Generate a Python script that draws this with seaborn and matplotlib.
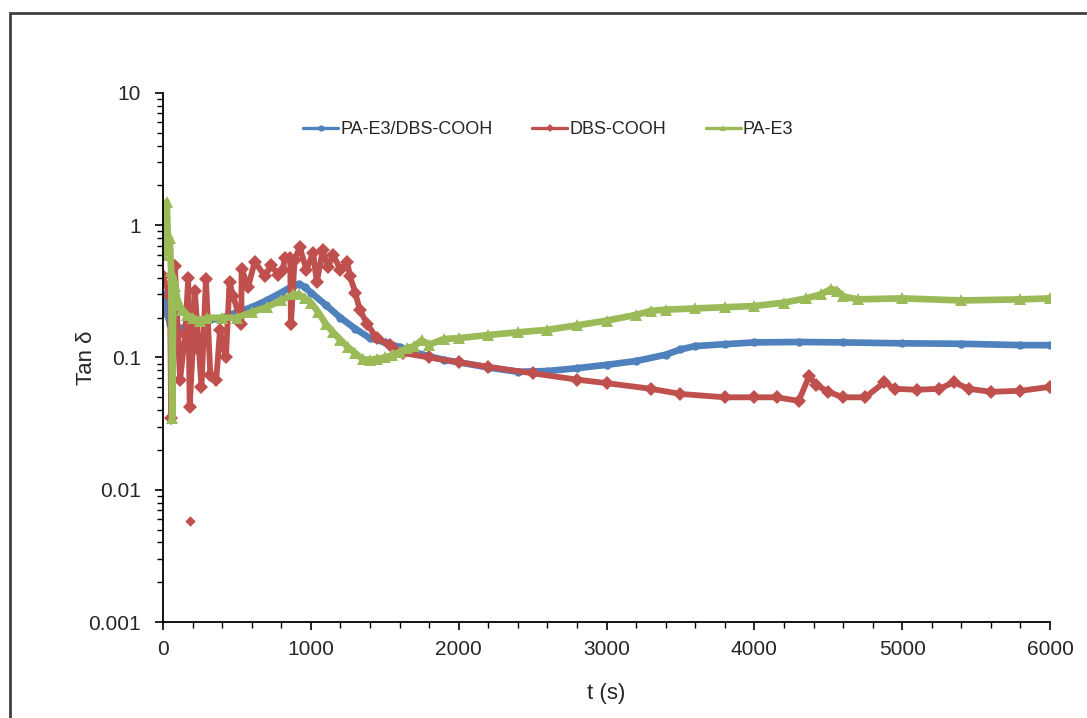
import matplotlib
matplotlib.use("Agg")
import matplotlib.pyplot as plt
import matplotlib.ticker as mticker
from matplotlib.lines import Line2D
from matplotlib.patches import Rectangle
import numpy as np
import pandas as pd
import seaborn as sns

# ---- data: loss tangent vs time ----
blend_t = [0, 20, 50, 100, 150, 200, 300, 400, 500, 600, 700, 800, 880, 920, 960,
           1000, 1100, 1200, 1300, 1400, 1500, 1600, 1700, 1800, 1900, 2000, 2200,
           2400, 2600, 2800, 3000, 3200, 3400, 3500, 3600, 3800, 4000, 4300, 4600,
           5000, 5400, 5800, 6000]
blend_v = [0.30, 0.22, 0.18, 0.165, 0.17, 0.18, 0.19, 0.20, 0.22, 0.24, 0.27, 0.31,
           0.35, 0.36, 0.34, 0.31, 0.25, 0.20, 0.165, 0.14, 0.13, 0.12, 0.11, 0.102,
           0.096, 0.092, 0.084, 0.078, 0.079, 0.083, 0.088, 0.094, 0.105, 0.115,
           0.122, 0.126, 0.130, 0.131, 0.130, 0.128, 0.127, 0.124, 0.124]

dbs_t = [0, 47, 55, 80, 115, 150, 170, 180, 200, 215, 260, 290, 320, 360, 385, 425,
         450, 475, 530, 531, 575, 620, 690, 730, 780, 810, 825, 860, 865, 890, 925,
         970, 1015, 1040, 1080, 1115, 1150, 1200, 1245, 1265, 1300, 1330, 1380, 1445,
         1535, 1625, 1800, 2000, 2200, 2500, 2800, 3000, 3300, 3500, 3800, 4000,
         4150, 4300, 4370, 4420, 4500, 4600, 4750, 4880, 4950, 5100, 5250, 5350,
         5450, 5600, 5800, 6000]
dbs_v = [0.41, 0.29, 0.035, 0.49, 0.068, 0.15, 0.40, 0.042, 0.114, 0.32, 0.06, 0.39,
         0.074, 0.068, 0.16, 0.10, 0.37, 0.29, 0.18, 0.47, 0.34, 0.53, 0.41, 0.50,
         0.42, 0.46, 0.57, 0.57, 0.18, 0.55, 0.68, 0.46, 0.62, 0.37, 0.65, 0.48,
         0.60, 0.46, 0.53, 0.41, 0.31, 0.23, 0.18, 0.14, 0.125, 0.108, 0.10, 0.092,
         0.085, 0.076, 0.068, 0.064, 0.058, 0.053, 0.050, 0.050, 0.050, 0.047,
         0.072, 0.062, 0.055, 0.050, 0.050, 0.065, 0.058, 0.057, 0.058, 0.065,
         0.058, 0.055, 0.056, 0.060]
dbs_outlier_t = [185]
dbs_outlier_v = [0.0058]

pae3_t = [0, 15, 25, 35, 45, 55, 62, 70, 80, 95, 110, 130, 160, 200, 250, 300, 400,
          500, 600, 700, 800, 880, 920, 960, 1000, 1050, 1100, 1150, 1200, 1250,
          1300, 1350, 1400, 1450, 1500, 1550, 1600, 1650, 1700, 1750, 1800, 1900,
          2000, 2200, 2400, 2600, 2800, 3000, 3200, 3300, 3400, 3600, 3800, 4000,
          4200, 4350, 4450, 4520, 4560, 4600, 4700, 5000, 5400, 5800, 6000]
pae3_v = [0.60, 0.65, 1.50, 0.70, 0.80, 0.45, 0.035, 0.40, 0.35, 0.28, 0.25, 0.23,
          0.21, 0.20, 0.19, 0.20, 0.20, 0.20, 0.22, 0.24, 0.27, 0.30, 0.30, 0.28,
          0.26, 0.22, 0.18, 0.155, 0.136, 0.12, 0.108, 0.097, 0.096, 0.098, 0.10,
          0.104, 0.11, 0.118, 0.122, 0.135, 0.125, 0.138, 0.14, 0.148, 0.155, 0.162,
          0.175, 0.19, 0.21, 0.225, 0.23, 0.235, 0.24, 0.245, 0.26, 0.28, 0.30, 0.33,
          0.32, 0.29, 0.275, 0.28, 0.27, 0.275, 0.28]

series_names = ["PA-E3/DBS-COOH", "DBS-COOH", "PA-E3"]
colors = ["#4F81BD", "#C0504D", "#9BBB59"]
markers = ["o", "D", "^"]
x_ticks = [0, 1000, 2000, 3000, 4000, 5000, 6000]
y_ticks = [0.001, 0.01, 0.1, 1, 10]

sns.set_style("ticks")
plt.rcParams["font.family"] = ["Liberation Sans", "DejaVu Sans"]
FS_TICK = 15
FS_LABEL = 16
FS_LEG = 13
TXT = "#262626"

fig = plt.figure(figsize=(10.87, 7.18), dpi=100)
ax = fig.add_axes([0.150, 0.1337, 0.816, 0.7368])

frames = [
    pd.DataFrame({"t": blend_t, "tan": blend_v}),
    pd.DataFrame({"t": dbs_t, "tan": dbs_v}),
    pd.DataFrame({"t": pae3_t, "tan": pae3_v}),
]
widths = [4.8, 4.2, 4.8]
msizes = [6, 7, 8]
for df, c, m, lw, ms in zip(frames, colors, markers, widths, msizes):
    sns.lineplot(data=df, x="t", y="tan", ax=ax, color=c, lw=lw,
                 marker=m, markersize=ms, markeredgewidth=0,
                 estimator=None, sort=False, legend=False)

sns.scatterplot(x=dbs_outlier_t, y=dbs_outlier_v, ax=ax, color=colors[1],
                marker="D", s=28, linewidth=0, legend=False)

ax.set_yscale("log")
ax.set_xlim(0, 6000)
ax.set_ylim(0.001, 10)
ax.set_xticks(x_ticks)
ax.xaxis.set_minor_locator(mticker.MultipleLocator(200))
ax.set_yticks(y_ticks)
ax.yaxis.set_major_formatter(mticker.FuncFormatter(lambda v, _: f"{v:g}"))
ax.yaxis.set_minor_locator(mticker.LogLocator(base=10, subs=np.arange(2, 10)))
ax.yaxis.set_minor_formatter(mticker.NullFormatter())

for s in ["top", "right"]:
    ax.spines[s].set_visible(False)
for s in ["left", "bottom"]:
    ax.spines[s].set_color("black")
    ax.spines[s].set_linewidth(1.3)

ax.tick_params(axis="both", which="major", direction="out", length=6, width=1.2,
               color="black", labelsize=FS_TICK, labelcolor=TXT)
ax.tick_params(axis="y", which="major", pad=10)
ax.tick_params(axis="x", which="major", pad=7)
ax.tick_params(axis="both", which="minor", direction="out", length=4.5, width=1.0,
               color="black")

ax.set_xlabel("t (s)", fontsize=FS_LABEL, color=TXT)
ax.set_ylabel("Tan δ", fontsize=FS_LABEL, color=TXT)
ax.xaxis.set_label_coords(0.5, -0.115)
ax.yaxis.set_label_coords(-0.074, 0.5)
ax.grid(False)

handles = [Line2D([0], [0], color=c, lw=2.4, marker=m, markersize=4.5,
                  markeredgewidth=0)
           for c, m in zip(colors, markers)]
fig.legend(handles, series_names, loc="center left",
           bbox_to_anchor=(0.279, 0.819), ncol=3, frameon=False,
           fontsize=FS_LEG, handlelength=1.95, handletextpad=0.1,
           columnspacing=2.2, borderpad=0, borderaxespad=0,
           labelcolor=TXT)

# outer frame of the figure
fig.patches.append(Rectangle((10 / 1087, -0.2), 2.0, 1.2 - 13 / 718,
                             transform=fig.transFigure, fill=False,
                             edgecolor="#404040", lw=2.0, zorder=10))

fig.savefig("out.png", dpi=100)
